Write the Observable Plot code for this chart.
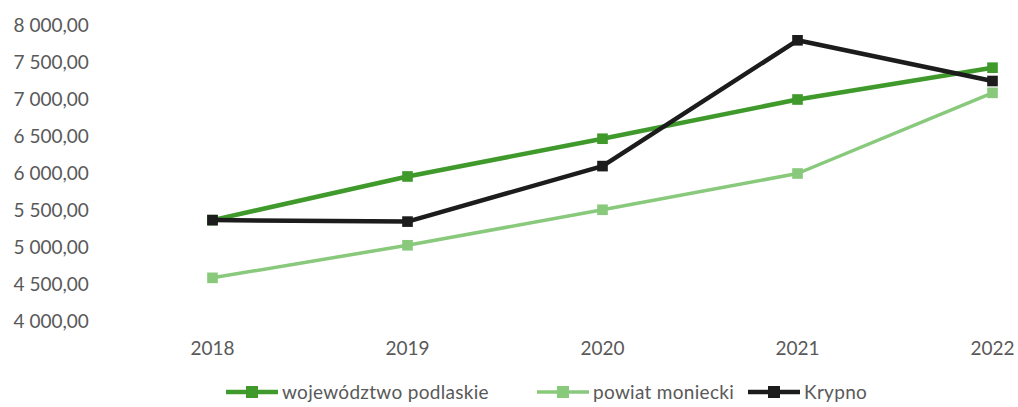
<!DOCTYPE html>
<html>
<head>
<meta charset="utf-8">
<script src="https://cdn.jsdelivr.net/npm/d3@7"></script>
<script src="https://cdn.jsdelivr.net/npm/@observablehq/plot@0.6"></script>
<style>
  html, body { margin: 0; padding: 0; background: #fff; overflow: hidden; }
  #wrap { position: relative; width: 1018px; height: 407px; font-family: Lato, "Open Sans", sans-serif; }
  #legend { position: absolute; left: 0; top: 360px; width: 1018px; height: 47px; }
  .item { position: absolute; top: 20px; display: flex; align-items: center; font-size: 19px; color: #595959; line-height: 24px; letter-spacing: 0.3px; }
  .item svg { margin-right: 4px; }
</style>
</head>
<body>
<div id="wrap"><div id="chart"></div><div id="legend"></div></div>
<script>
const years = ["2018", "2019", "2020", "2021", "2022"];
const seriesNames = ["województwo podlaskie", "powiat moniecki", "Krypno"];
const wojewodztwo = [5370, 5960, 6470, 7000, 7430];
const powiat = [4590, 5030, 5510, 6000, 7090];
const krypno = [5370, 5350, 6100, 7800, 7250];
const yTicks = [4000, 4500, 5000, 5500, 6000, 6500, 7000, 7500, 8000];
const colors = ["#3f9a2b", "#88c97c", "#1c1c1c"];
const widths = [4.5, 3.5, 4.5];

const valuesBySeries = [wojewodztwo, powiat, krypno];
const data = [];
seriesNames.forEach((s, i) => years.forEach((y, j) => data.push({series: s, year: y, value: valuesBySeries[i][j], idx: i})));

const plFormat = d3.formatLocale({decimal: ",", thousands: " ", grouping: [3], currency: ["", " zł"]}).format(",.2f");

const marks = [];
seriesNames.forEach((s, i) => {
  const d = data.filter(r => r.series === s);
  marks.push(Plot.line(d, {x: "year", y: "value", stroke: colors[i], strokeWidth: widths[i], strokeLinejoin: "round"}));
  marks.push(Plot.dot(d, {x: "year", y: "value", symbol: "square", r: 6, fill: colors[i], stroke: "none"}));
});

const chart = Plot.plot({
  width: 1018,
  height: 360,
  marginTop: 25,
  marginBottom: 39,
  marginLeft: 210,
  marginRight: 25,
  style: {fontFamily: "Lato, 'Open Sans', sans-serif", fontSize: "19px", color: "#595959", background: "#fff"},
  x: {type: "point", domain: years, padding: 0},
  y: {domain: [4000, 8000]},
  marks: [
    Plot.axisX({tickSize: 0, tickPadding: 20, fill: "#595959", label: null}),
    Plot.axisY({ticks: yTicks, tickSize: 0, tickPadding: 0, textAnchor: "start", dx: -197, tickFormat: plFormat, fill: "#595959", label: null}),
    ...marks
  ]
});
document.getElementById("chart").appendChild(chart);

const legendLefts = [226, 537, 748];
const legend = document.getElementById("legend");
seriesNames.forEach((s, i) => {
  const div = document.createElement("div");
  div.className = "item";
  div.style.left = legendLefts[i] + "px";
  div.innerHTML = `<svg width="52" height="14"><line x1="0" x2="52" y1="7" y2="7" stroke="${colors[i]}" stroke-width="${widths[i]}"/><rect x="20" y="1" width="12" height="12" fill="${colors[i]}"/></svg><span>${s}</span>`;
  legend.appendChild(div);
});
</script>
</body>
</html>
